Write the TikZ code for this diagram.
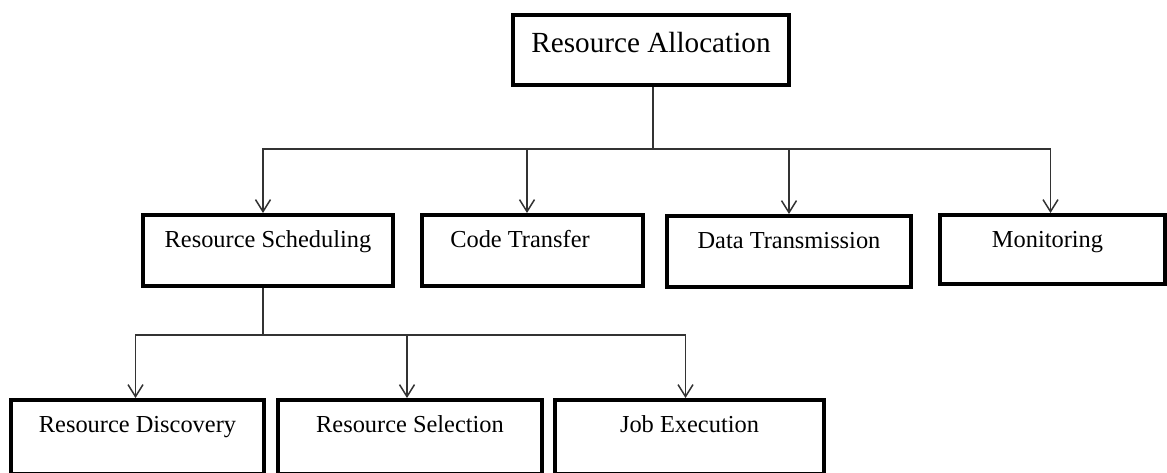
\documentclass[tikz,border=0pt]{standalone}
\usepackage{fontspec}
\setmainfont{Liberation Serif}
\usetikzlibrary{arrows.meta}
\begin{document}
\begin{tikzpicture}[x=0.5pt,y=-0.5pt,
  box/.style={draw=black, line width=2pt, fill=white, inner xsep=0pt, inner ysep=0pt,
    text height=16pt, text depth=19.5pt, font=\fontsize{12.2}{14}\selectfont, anchor=north},
  topbox/.style={box, text height=18.5pt, text depth=16.5pt, font=\fontsize{14.6}{16}\selectfont},
  lowbox/.style={box, text depth=21pt},
  link/.style={draw=black!80, line width=0.75pt},
  arr/.style={link, -{Straight Barb[length=6pt,width=7.5pt,line width=0.75pt]}},
]
\useasboundingbox (0,0) rectangle (1167,472);

% boxes
\node[topbox, minimum width=138pt] (alloc) at (651,13) {Resource Allocation};

\node[box, minimum width=125pt]   (sched) at (268,213)    {Resource Scheduling};
\node[box, minimum width=110.5pt] (code)  at (532,213)    {Code Transfer\hspace*{12pt}};
\node[box, minimum width=122pt]   (data)  at (789,214)    {Data Transmission};
\node[box, minimum width=112.5pt, text depth=18.5pt] (mon) at (1052.5,213) {Monitoring\hspace*{5pt}};

\node[lowbox, minimum width=126.5pt] (disc) at (137.5,398) {Resource Discovery};
\node[lowbox, minimum width=132pt]   (sel)  at (410,398)   {Resource Selection};
\node[lowbox, minimum width=134.5pt] (job)  at (689.5,398) {Job Execution};

% first level connectors
\coordinate (j1) at (653,149);
\draw[link] ([xshift=1pt]alloc.south) -- (j1);
\draw[arr] (j1) -| ([xshift=-2.5pt]sched.north);
\draw[arr] (j1) -| ([xshift=-2.5pt]code.north);
\draw[arr] (j1) -| (data.north);
\draw[arr] (j1) -| ([xshift=-1pt]mon.north);

% second level connectors
\coordinate (j2) at (263,335);
\draw[link] ([xshift=-2.5pt]sched.south) -- (j2);
\draw[arr] (j2) -| ([xshift=-1pt]disc.north);
\draw[arr] (j2) -| ([xshift=-1.5pt]sel.north);
\draw[arr] (j2) -| ([xshift=-2pt]job.north);
\end{tikzpicture}
\end{document}
